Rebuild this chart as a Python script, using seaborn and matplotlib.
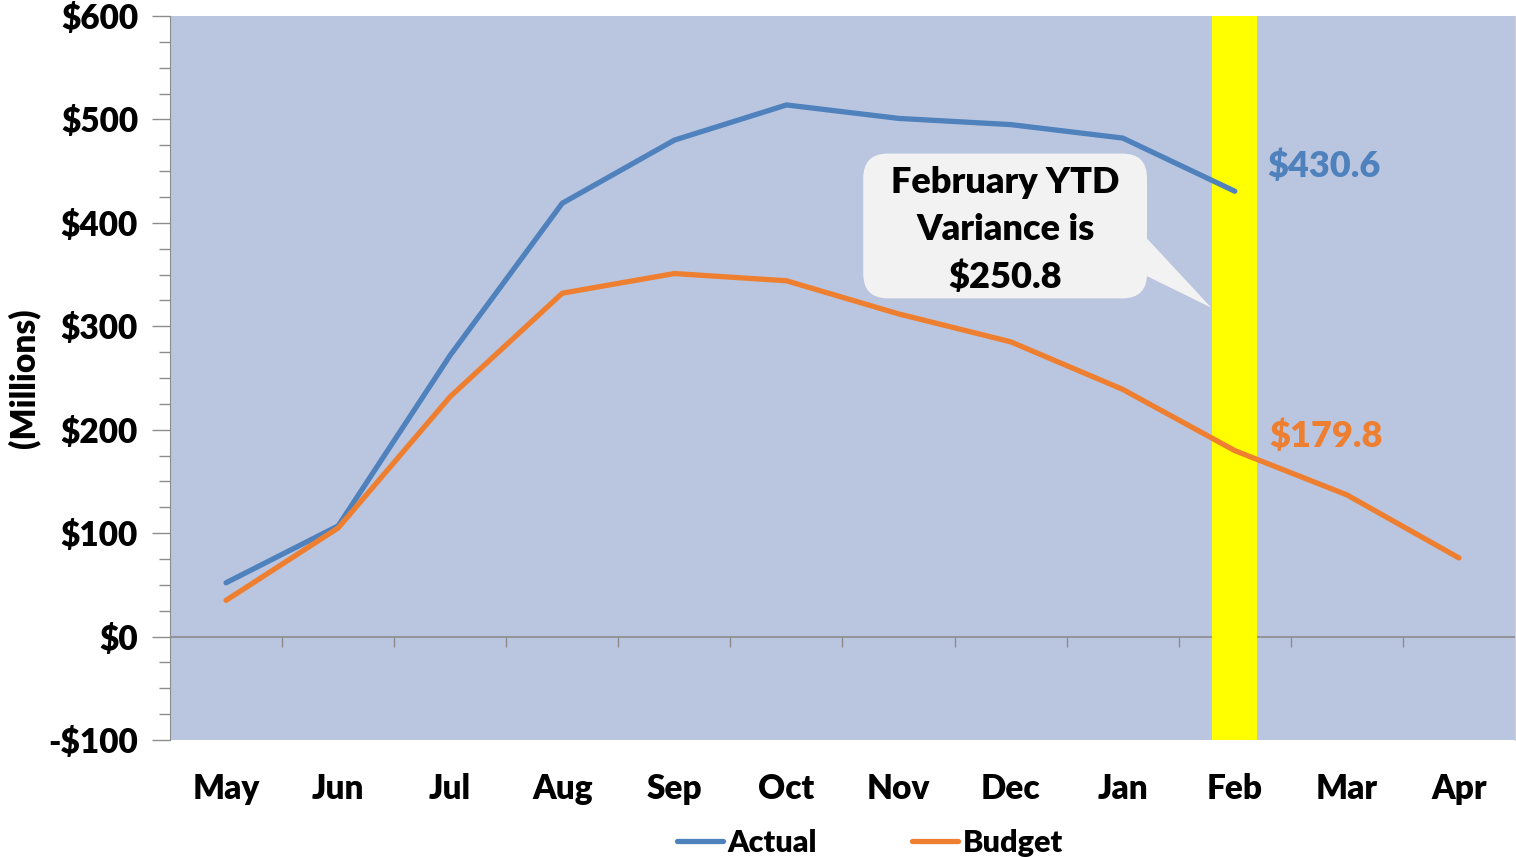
import numpy as np
import pandas as pd
import matplotlib
matplotlib.use("Agg")
import matplotlib.pyplot as plt
import seaborn as sns
from matplotlib.patches import Polygon, FancyBboxPatch
from matplotlib.ticker import MultipleLocator, FuncFormatter

# data (millions)
months = ["May", "Jun", "Jul", "Aug", "Sep", "Oct", "Nov", "Dec", "Jan", "Feb", "Mar", "Apr"]
actual = [52, 107, 272, 419, 480, 514, 501, 495, 482, 430.6, np.nan, np.nan]
budget = [35, 105, 232, 332, 351, 344, 312, 285, 239, 179.8, 137, 76]
highlight_month = "Feb"
variance_text = "February YTD\nVariance is\n$250.8"

BLUE = "#4F81BD"
ORANGE = "#EE7F30"
BG = "#BAC6DF"
FW = "heavy"
FS = 24

sns.set_style("white")
plt.rcParams["font.family"] = ["Lato", "DejaVu Sans"]
plt.rcParams["font.weight"] = FW
for k in ["text.color", "axes.labelcolor", "xtick.labelcolor", "ytick.labelcolor"]:
    plt.rcParams[k] = "black"

df = pd.DataFrame({"month": months * 2,
                   "value": actual + budget,
                   "series": ["Actual"] * len(months) + ["Budget"] * len(months)})

fig = plt.figure(figsize=(15.16, 8.57), dpi=100)
ax = fig.add_axes([170 / 1516, 1 - 740 / 857, 1 - 171 / 1516, (740 - 16) / 857])
ax.set_facecolor(BG)

sns.lineplot(data=df, x="month", y="value", hue="series", sort=False,
             palette={"Actual": BLUE, "Budget": ORANGE}, linewidth=3.8,
             solid_capstyle="round", ax=ax, zorder=3, legend=True)

ax.set_xlim(-0.5, len(months) - 0.5)
ax.set_ylim(-100, 600)

# zero line, then yellow band for the current month
ax.axhline(0, color="#8C8C8C", lw=1.2, zorder=1)
hi = months.index(highlight_month)
ax.axvspan(hi - 0.2, hi + 0.2, color="#FFFF00", zorder=2, lw=0)

# end labels
ax.text(hi + 0.29, actual[hi] + 24, f"${actual[hi]:.1f}", color=BLUE, fontsize=26,
        fontweight=FW, va="center", ha="left", zorder=4)
ax.text(hi + 0.31, budget[hi] + 14, f"${budget[hi]:.1f}", color=ORANGE, fontsize=26,
        fontweight=FW, va="center", ha="left", zorder=4)

# callout box with tail pointing at the band
x0, x1, y0, y1 = hi - 3.315, hi - 0.783, 327, 467
ax.add_patch(FancyBboxPatch((x0, y0), x1 - x0, y1 - y0,
                            boxstyle="round,pad=0,rounding_size=0.22", mutation_aspect=108.5,
                            facecolor="#F2F2F2", edgecolor="none", zorder=4))
ax.add_patch(Polygon([[x1 - 0.01, 386], [x1 - 0.01, 349], [hi - 0.21, 318]],
                     closed=True, facecolor="#F2F2F2", edgecolor="none", zorder=4))
ax.text((x0 + x1) / 2, (y0 + y1) / 2 - 4, variance_text, fontsize=26, fontweight=FW,
        ha="center", va="center", linespacing=1.53, zorder=5)

# y axis
ax.yaxis.set_major_locator(MultipleLocator(100))
ax.yaxis.set_minor_locator(MultipleLocator(25))
ax.yaxis.set_major_formatter(FuncFormatter(lambda v, p: f"-${abs(v):.0f}" if v < 0 else f"${v:.0f}"))
ax.tick_params(axis="y", which="major", length=13, width=1, color="#8C8C8C",
               labelsize=FS, pad=10, left=True)
ax.tick_params(axis="y", which="minor", length=8, width=1, color="#8C8C8C", left=True)
ax.set_ylabel("(Millions)", fontsize=FS, fontweight=FW, labelpad=6)

# x axis labels at bottom, tick marks on the zero line
ax.tick_params(axis="x", length=0, labelsize=FS, pad=24)
ax.set_xlabel("")
sec = ax.secondary_xaxis(100 / 700)
sec.set_xticks(np.arange(0.5, len(months) - 1, 1))
sec.tick_params(axis="x", direction="out", length=7, width=1, color="#8C8C8C", labelbottom=False)
sec.spines["bottom"].set_visible(False)
sec.spines["top"].set_visible(False)

for s in ["top", "bottom"]:
    ax.spines[s].set_visible(False)
ax.spines["left"].set_color("#8C8C8C")
ax.spines["right"].set_color("#D0D0D0")

handles, labels = ax.get_legend_handles_labels()
ax.get_legend().remove()
fig.legend(handles, labels, loc="center", bbox_to_anchor=(870 / 1516, 1 - 843 / 857), ncol=2,
           frameon=False, fontsize=22, handlelength=1.5, handletextpad=0.15, columnspacing=3.1)

fig.savefig("out.png", dpi=100, facecolor="white")
